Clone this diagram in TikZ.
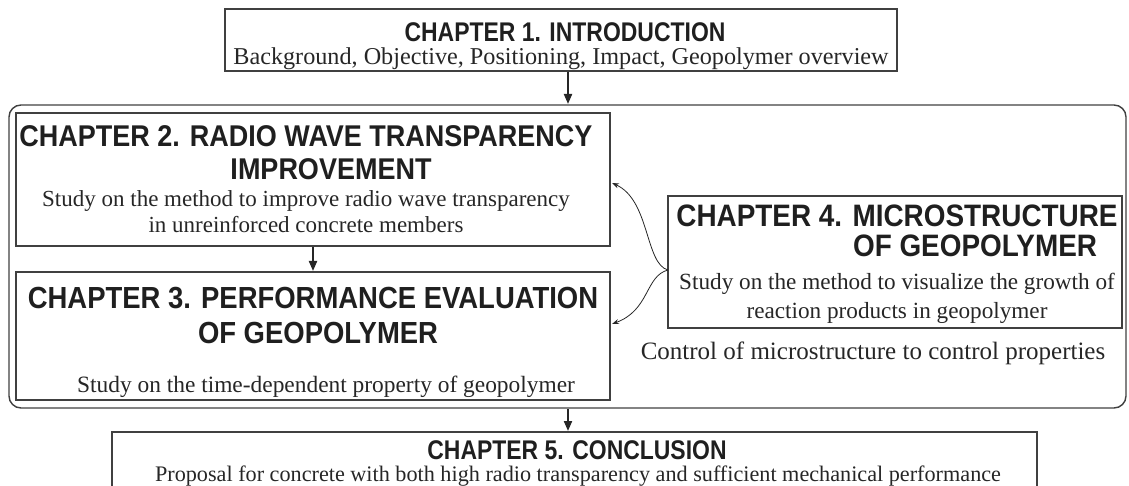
\documentclass[tikz,border=0pt]{standalone}
\usepackage{fontspec}
\setmainfont{Liberation Serif}
\newfontfamily\tfont[FakeStretch=0.9]{Liberation Sans}
\newfontfamily\tfontn[FakeStretch=0.85]{Liberation Sans}
\usetikzlibrary{arrows.meta}
\begin{document}
\begin{tikzpicture}[x=1pt,y=-1pt,
  box/.style={draw=black!75,line width=1.4pt},
  ttl/.style={anchor=base,inner sep=0pt,text depth=0pt,font=\tfontn\bfseries\fontsize{27}{30}\selectfont,text=black!88},
  bigttl/.style={anchor=base,inner sep=0pt,font=\tfont\bfseries\fontsize{#1}{34}\selectfont,text=black!88},
  sub/.style={anchor=base,inner sep=0pt,text height=16pt,font=\fontsize{#1}{26}\selectfont,text=black!85},
  flow/.style={draw=black!85,line width=2pt,-{Triangle[length=10pt,width=8pt]}},
  thin/.style={draw=black!85,line width=0.8pt,-{Stealth[length=7pt,width=5pt]}}]
\useasboundingbox (0,0) rectangle (1129,486);
% outer rounded frame
\draw[box,rounded corners=12pt] (9,105) rectangle (1126,408);
% chapter 1
\draw[box] (225,9) rectangle (897,71);
\node[ttl] (t1) at (565,42) {CHAPTER 1. INTRODUCTION};
\node[sub=24.2] (s1) at (561,65) {Background, Objective, Positioning, Impact, Geopolymer overview};
% chapter 2
\draw[box] (16,113) rectangle (610,246);
\node[bigttl=30] (t2a) at (306,147) {CHAPTER 2. RADIO WAVE TRANSPARENCY};
\node[bigttl=30] (t2b) at (331,180) {IMPROVEMENT};
\node[sub=23] (s2a) at (306,207) {Study on the method to improve radio wave transparency};
\node[sub=23] (s2b) at (306,233) {in unreinforced concrete members};
% chapter 3
\draw[box] (16,272) rectangle (610,400);
\node[bigttl=30.5] (t3a) at (313,308) {CHAPTER 3. PERFORMANCE EVALUATION};
\node[bigttl=30.5] (t3b) at (318,343) {OF GEOPOLYMER};
\node[sub=23.4] (s3) at (326,392) {Study on the time-dependent property of geopolymer};
% chapter 4
\draw[box] (668,196) rectangle (1122,328);
\node[bigttl=31] (t4a) at (897,227) {CHAPTER 4. MICROSTRUCTURE};
\node[bigttl=31] (t4b) at (975,257) {OF GEOPOLYMER};
\node[sub=23.2] (s4a) at (897,289) {Study on the method to visualize the growth of};
\node[sub=23.2] (s4b) at (897,318) {reaction products in geopolymer};
\node[sub=25] (ctl) at (873,359) {Control of microstructure to control properties};
% chapter 5 (open at bottom)
\draw[box] (112,486) -- (112,432) -- (1037,432) -- (1037,486);
\node[ttl] (t5) at (577,459) {CHAPTER 5. CONCLUSION};
\node[sub=22.2] (s5) at (578,481) {Proposal for concrete with both high radio transparency and sufficient mechanical performance};
% connectors
\coordinate (a1) at (568,72);
\coordinate (a1e) at (568,104);
\draw[flow] (a1) -- (a1e);
\coordinate (a2) at (313,247);
\coordinate (a2e) at (313,271);
\draw[flow] (a2) -- (a2e);
\coordinate (a3) at (568,409);
\coordinate (a3e) at (568,431);
\draw[flow] (a3) -- (a3e);
\coordinate (j) at (668,270);
\coordinate (c2r) at (612,183);
\coordinate (c3r) at (612,324);
\draw[thin] (j) .. controls (645,264) and (650,200) .. (c2r);
\draw[thin] (j) .. controls (645,276) and (650,310) .. (c3r);
\end{tikzpicture}
\end{document}
